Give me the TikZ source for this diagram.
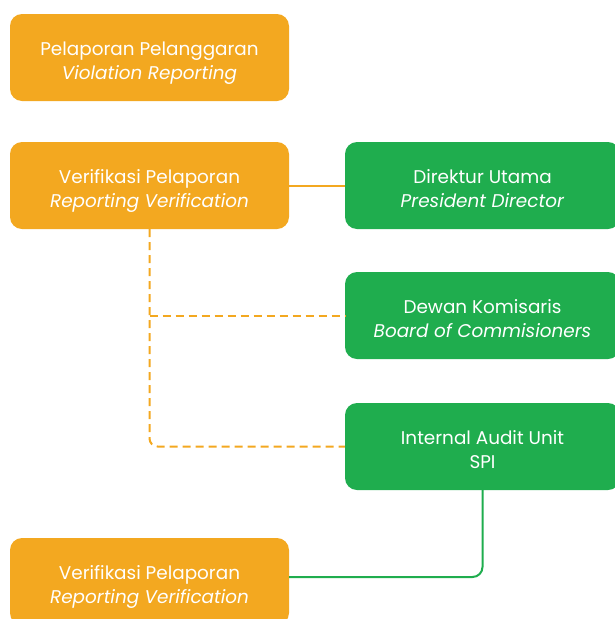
\documentclass[tikz,border=0pt]{standalone}
\usepackage{fontspec}
\setmainfont{Poppins}
\definecolor{oranye}{HTML}{F3A820}
\definecolor{hijau}{HTML}{1FAD4E}
\begin{document}
\begin{tikzpicture}[x=1pt,y=-1pt,
    kotak/.style={rounded corners=12pt, minimum width=279pt, minimum height=87pt,
      inner sep=0pt, align=center, text=white, text height=48pt, text depth=5pt,
      font=\fontsize{18.4}{24}\selectfont},
    oren/.style={kotak, fill=oranye},
    hijaubox/.style={kotak, fill=hijau, minimum width=275pt},
    garis/.style={line width=2pt},
    putus/.style={garis, oranye, dash pattern=on 8pt off 5pt, rounded corners=8pt}]
\useasboundingbox (0,0) rectangle (615,619);
% kotak oranye
\node[oren] (lapor) at (149.5,57.5) {Pelaporan Pelanggaran\\\textit{Violation Reporting}};
\node[oren] (verif) at (149.5,185.5) {Verifikasi Pelaporan\\\textit{Reporting Verification}};
\node[oren] (verifb) at (149.5,581.5) {Verifikasi Pelaporan\\\textit{Reporting Verification}};
% kotak hijau
\node[hijaubox] (dirut) at (482.5,185.5) {Direktur Utama\\\textit{President Director}};
\node[hijaubox] (dekom) at (482.5,315.5) {Dewan Komisaris\\\textit{Board of Commisioners}};
\node[hijaubox] (spi) at (482.5,446.5) {Internal Audit Unit\\SPI};
% garis
\draw[garis, oranye] (verif.east) -- (dirut.west);
\draw[putus] (verif.south) |- (spi.west);
\draw[putus] (verif.south |- dekom.west) -- (dekom.west);
\draw[garis, hijau, rounded corners=10pt] (spi.south) |- ([yshift=4.5pt]verifb.east);
\end{tikzpicture}
\end{document}
